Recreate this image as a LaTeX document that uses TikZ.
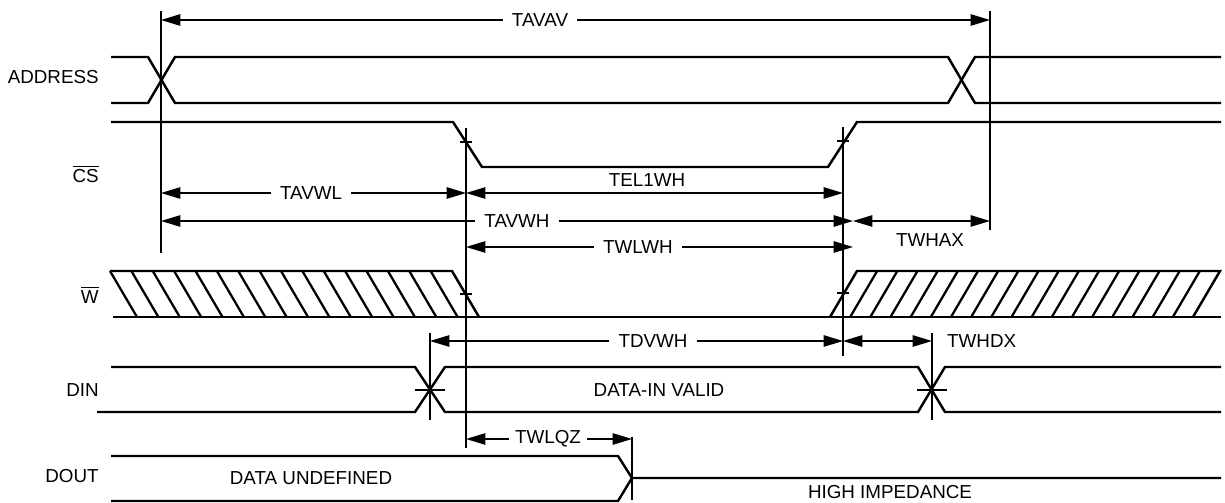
\documentclass[tikz,border=0pt]{standalone}
\usepackage{fontspec}
\setmainfont{Liberation Sans}
\usetikzlibrary{arrows.meta}

\tikzset{
  every node/.style={font=\fontsize{10.7}{12}\selectfont},
  signal/.style={line width=1.4pt, line join=miter},
  hatch/.style={line width=1.3pt},
  refline/.style={line width=0.7pt},
  tick/.style={line width=0.7pt},
  signame/.style={anchor=east, inner sep=0pt},
}

\begin{document}
\begin{tikzpicture}[
    x=0.02cm, y=-0.02cm,
    >={Triangle[length=11pt,width=6.5pt]},
    dim/.style={line width=0.7pt},
    dimlabel/.style={inner xsep=5pt, inner ysep=1pt}
  ]
  \useasboundingbox (0,0) rectangle (1225,503);

  % Timing marks
  \coordinate (tAS) at (161,0);
  \coordinate (tDS) at (430,0);
  \coordinate (tWL) at (466,0);
  \coordinate (tQZ) at (632,0);
  \coordinate (tWH) at (843,0);
  \coordinate (tWHb) at (853,0);
  \coordinate (tDH) at (932,0);
  \coordinate (tAE) at (990,0);

  % Signal names
  \node[signame] (address) at (99,77) {ADDRESS};
  \node[signame] (cs) at (99,174) {$\overline{\mbox{CS}}$};
  \node[signame] (we) at (99,295) {$\overline{\mbox{W}}$};
  \node[signame] (din) at (99,390) {DIN};
  \node[signame] (dout) at (99,476) {DOUT};

  % Waveforms
  \draw[signal] (111,57) -- (148,57) -- (175,103) -- (948,103) -- (975,57) -- (1221,57);
  \draw[signal] (111,103) -- (148,103) -- (175,57) -- (948,57) -- (975,103) -- (1221,103);

  \draw[signal] (111,122) -- (453,122) -- (482,167) -- (828,167) -- (857,122) -- (1221,122);

  \draw[signal] (110,271) -- (452,271) -- (479,317);
  \draw[signal] (830,317) -- (857,271) -- (1220,271) -- (1193,317);
  \draw[signal] (113,317) -- (1221,317);
  \foreach \k in {0,...,15}
    \draw[hatch] ({110+\k*342/16},271) -- ({137+\k*342/16},317);
  \foreach \k in {1,...,17}
    \draw[hatch] ({857+\k*363/18},271) -- ({830+\k*363/18},317);

  \draw[signal] (111,367) -- (415,367) -- (445,412) -- (918,412) -- (945,367) -- (1221,367);
  \draw[signal] (97,412) -- (415,412) -- (445,367) -- (918,367) -- (945,412) -- (1221,412);

  \draw[signal] (111,456) -- (618,456) -- (632,478) -- (1221,478);
  \draw[signal] (111,501) -- (618,501) -- (632,478);

  % Data labels
  \node (dinvalid) at (659,390) {DATA-IN VALID};
  \node (dundef) at (311,478) {DATA UNDEFINED};
  \node (highz) at (890,492) {HIGH IMPEDANCE};

  % Reference lines and ticks
  \draw[refline] (161,11) -- (161,253);
  \draw[refline] (990,11) -- (990,230);
  \draw[refline] (466,128) -- (466,448);
  \draw[refline] (843,127) -- (843,356);
  \draw[refline] (430,333) -- (430,420);
  \draw[refline] (932,333) -- (932,420);
  \draw[refline] (632,437) -- (632,500);
  \draw[tick] (460,142) -- (472,142);
  \draw[tick] (837,141) -- (849,141);
  \draw[tick] (460,294) -- (472,294);
  \draw[tick] (837,293) -- (849,293);
  \draw[tick] (415,390) -- (445,390);
  \draw[tick] (917,390) -- (947,390);

  % Timing parameters
  \node[dimlabel] (tavav) at (540,20) {TAVAV};
  \draw[dim,->] (tavav) -- (tAS |- tavav);
  \draw[dim,->] (tavav) -- (tAE |- tavav);

  \node[dimlabel] (tavwl) at (311,193) {TAVWL};
  \draw[dim,->] (tavwl) -- (tAS |- tavwl);
  \draw[dim,->] (tavwl) -- (tWL |- tavwl);
  \draw[dim,<->] (tWL |- tavwl) -- (tWH |- tavwl);
  \node (tel1wh) at (647,180) {TEL1WH};

  \node[dimlabel] (tavwh) at (517,221) {TAVWH};
  \draw[dim,->] (tavwh) -- (tAS |- tavwh);
  \draw[dim,->] (tavwh) -- (tWHb |- tavwh);
  \draw[dim,<->] (tWHb |- tavwh) -- (tAE |- tavwh);
  \node (twhax) at (930,240) {TWHAX};

  \node[dimlabel] (twlwh) at (638,247) {TWLWH};
  \draw[dim,->] (twlwh) -- (tWL |- twlwh);
  \draw[dim,->] (twlwh) -- (tWHb |- twlwh);

  \node[dimlabel] (tdvwh) at (653,341) {TDVWH};
  \draw[dim,->] (tdvwh) -- (tDS |- tdvwh);
  \draw[dim,->] (tdvwh) -- (tWH |- tdvwh);
  \draw[dim,<->] (tWH |- tdvwh) -- (tDH |- tdvwh);
  \node[anchor=west] (twhdx) at (941,341) {TWHDX};

  \node[dimlabel, inner xsep=3pt] (twlqz) at (548,439) {TWLQZ};
  \draw[dim,->] (twlqz) -- (tWL |- twlqz);
  \draw[dim,->] (twlqz) -- (tQZ |- twlqz);

\end{tikzpicture}
\end{document}
